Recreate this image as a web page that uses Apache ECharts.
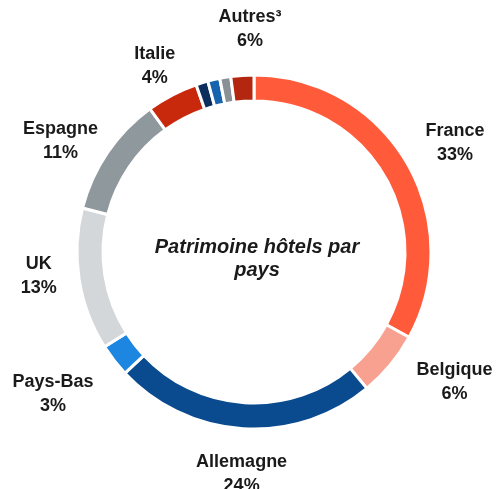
<!DOCTYPE html>
<html>
<head>
<meta charset="utf-8">
<script src="https://cdn.jsdelivr.net/npm/echarts@6/dist/echarts.min.js"></script>
<style>
  html, body { margin: 0; padding: 0; background: #fff; }
  #chart { width: 496px; height: 489px; }
</style>
</head>
<body>
<div id="chart"></div>
<script>
// pays et parts (%) du patrimoine hôtels
const countries = ['France', 'Belgique', 'Allemagne', 'Pays-Bas', 'UK', 'Espagne', 'Italie', 'Autres³']
const shares = [33, 6, 24, 3, 13, 11, 4, 6]

// anneau détaillé : "Autres" découpé en 4 petits morceaux
const sliceNames = ['France', 'Belgique', 'Allemagne', 'Pays-Bas', 'UK', 'Espagne', 'Italie', 'Autres a', 'Autres b', 'Autres c', 'Autres d']
const sliceValues = [33, 6, 24, 3, 13, 11, 4.7, 1.1, 1.1, 1.0, 2.1]
const sliceColors = ['#ff5a3a', '#f9a190', '#0a4a8e', '#1c86e0', '#d4d7d9', '#8f989d', '#c8290c', '#0b2e5c', '#1764ae', '#8a9196', '#b3260f']

// petits décalages des étiquettes
const labelNudge = {
  'France': [-1, 8], 'Belgique': [19, -16], 'Allemagne': [7, -7], 'Pays-Bas': [-15, 2],
  'UK': [16, -12], 'Espagne': [1, 18], 'Italie': [16, 15], 'Autres³': [44, 2],
}

const chart = echarts.init(document.getElementById('chart'), null, { renderer: 'canvas' })

const center = [254, 252]
const radius = [151, 177]

chart.setOption({
  animation: false,
  series: [
    {
      type: 'pie',
      center,
      radius,
      startAngle: 90,
      clockwise: true,
      silent: true,
      avoidLabelOverlap: false,
      label: { show: false },
      labelLine: { show: false },
      itemStyle: { borderColor: '#fff', borderWidth: 3 },
      data: sliceNames.map((n, i) => ({ name: n, value: sliceValues[i], itemStyle: { color: sliceColors[i] } })),
    },
    {
      type: 'pie',
      center,
      radius,
      startAngle: 90,
      clockwise: true,
      silent: true,
      avoidLabelOverlap: false,
      itemStyle: { color: 'rgba(0,0,0,0)' },
      label: {
        show: true,
        position: 'outside',
        width: 120,
        overflow: 'none',
        formatter: p => `${p.name}\n${p.value}%`,
        color: '#1a1a1a',
        fontFamily: 'Liberation Sans, Arial, sans-serif',
        fontWeight: 'bold',
        fontSize: 18,
        lineHeight: 24,
      },
      labelLine: { show: false, length: 52, length2: 0 },
      labelLayout: p => {
        const d = labelNudge[countries[p.dataIndex]] || [0, 0]
        return { align: 'center', verticalAlign: 'middle', dx: d[0], dy: d[1] }
      },
      data: countries.map((c, i) => ({ name: c, value: shares[i] })),
    },
  ],
  graphic: [{
    type: 'text',
    x: 257,
    y: 259,
    style: {
      text: 'Patrimoine hôtels par\npays',
      align: 'center',
      verticalAlign: 'middle',
      fontFamily: 'Liberation Sans, Arial, sans-serif',
      fontWeight: 'bold',
      fontStyle: 'italic',
      fontSize: 20,
      lineHeight: 23,
      fill: '#1a1a1a',
    },
  }],
})

window.addEventListener('resize', () => chart.resize())
</script>
</body>
</html>
